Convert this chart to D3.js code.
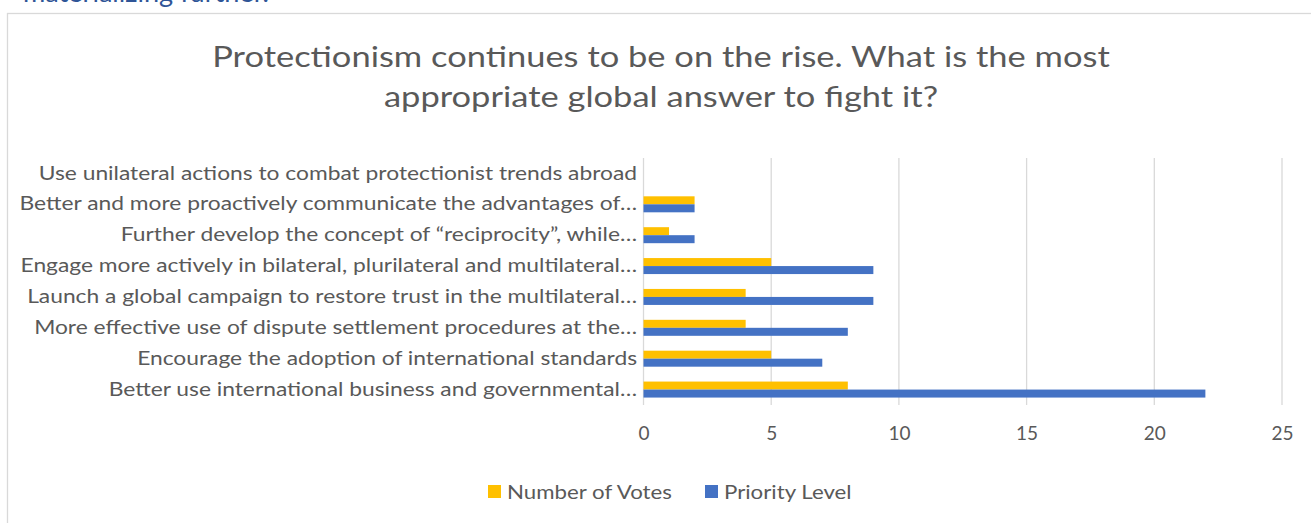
<!DOCTYPE html>
<html>
<head>
<meta charset="utf-8">
<script src="https://cdn.jsdelivr.net/npm/d3@7"></script>
<style>
  body { margin: 0; background: #fff; }
  svg text { font-family: Lato, "Open Sans", sans-serif; }
</style>
</head>
<body>
<svg id="chart" width="1311" height="523"></svg>
<script>
// Survey answers, listed from the top row of the chart to the bottom row
const categories = [
  "Use unilateral actions to combat protectionist trends abroad",
  "Better and more proactively communicate the advantages of…",
  "Further develop the concept of “reciprocity”, while…",
  "Engage more actively in bilateral, plurilateral and multilateral…",
  "Launch a global campaign to restore trust in the multilateral…",
  "More effective use of dispute settlement procedures at the…",
  "Encourage the adoption of international standards",
  "Better use international business and governmental…"
];
const seriesNames = ["Number of Votes", "Priority Level"];
const votes = [0, 2, 1, 5, 4, 4, 5, 8];
const priority = [0, 2, 2, 9, 9, 8, 7, 22];
const xTicks = [0, 5, 10, 15, 20, 25];
const titleLines = [
  "Protectionism continues to be on the rise. What is the most",
  "appropriate global answer to fight it?"
];
const headerText = "materializing further.";

const colors = { "Number of Votes": "#FFC000", "Priority Level": "#4472C4" };
const textColor = "#595959";
const gridColor = "#D9D9D9";

const svg = d3.select("#chart");

// horizontal scale factor that makes a string span a given width at a given size
function widthScale(str, size, targetWidth) {
  const t = svg.append("text").attr("font-size", size).text(str);
  const w = t.node().getComputedTextLength();
  t.remove();
  return targetWidth / w;
}

// text line above the chart frame
const headerSx = widthScale(headerText, 26, 246);
svg.append("text")
  .attr("transform", `translate(23,2) scale(${headerSx},1)`)
  .attr("font-size", 26)
  .attr("fill", "#2F5597")
  .text(headerText);

// chart frame
svg.append("rect")
  .attr("x", 7.5).attr("y", 13.5)
  .attr("width", 1400).attr("height", 600)
  .attr("fill", "none")
  .attr("stroke", gridColor)
  .attr("stroke-width", 1.3);

// title
const titleSize = 28.5;
const titleSx = widthScale(titleLines[0], titleSize, 898);
svg.append("g").selectAll("text")
  .data(titleLines)
  .join("text")
  .attr("transform", (d, i) => `translate(661,${67 + i * 40}) scale(${titleSx},1)`)
  .attr("text-anchor", "middle")
  .attr("font-size", titleSize)
  .attr("fill", textColor)
  .text(d => d);

// scales
const x = d3.scaleLinear().domain([0, 25]).range([643.5, 1282]);
const y = d3.scaleBand().domain(categories).range([158, 405]);
const ySeries = d3.scaleBand().domain(seriesNames)
  .range([0, y.bandwidth()]).paddingInner(0).paddingOuter(0.93);

// gridlines
svg.append("g").selectAll("line")
  .data(xTicks)
  .join("line")
  .attr("x1", d => x(d)).attr("x2", d => x(d))
  .attr("y1", 158).attr("y2", 405)
  .attr("stroke", gridColor)
  .attr("stroke-width", 1.3);

// bars
const rows = categories.map((c, i) => ({ c, values: [
  { s: "Number of Votes", v: votes[i] },
  { s: "Priority Level", v: priority[i] }
]}));

svg.append("g").selectAll("g")
  .data(rows)
  .join("g")
  .attr("transform", d => `translate(0,${y(d.c)})`)
  .selectAll("rect")
  .data(d => d.values)
  .join("rect")
  .attr("x", x(0))
  .attr("y", d => ySeries(d.s))
  .attr("width", d => x(d.v) - x(0))
  .attr("height", ySeries.bandwidth())
  .attr("fill", d => colors[d.s]);

// category labels
const labelSize = 19;
const labelSx = widthScale(categories[3], labelSize, 617);
const yAxis = svg.append("g")
  .attr("transform", `translate(${x(0)},0)`)
  .call(d3.axisLeft(y).tickSize(0).tickPadding(6.5));
yAxis.select(".domain").remove();
yAxis.selectAll("text")
  .attr("font-family", null)
  .attr("font-size", labelSize)
  .attr("fill", textColor)
  .attr("transform", `scale(${labelSx},1)`)
  .attr("x", -6.5 / labelSx);

// value axis
const xAxis = svg.append("g")
  .attr("transform", "translate(0,405)")
  .call(d3.axisBottom(x).tickValues(xTicks).tickSize(0).tickPadding(22));
xAxis.select(".domain").remove();
xAxis.selectAll("text")
  .attr("font-family", null)
  .attr("font-size", 19)
  .attr("fill", textColor);

// legend
const legendSize = 19.5;
const legendSx = widthScale(seriesNames[0], legendSize, 165);
const legendItems = [
  { s: seriesNames[0], x: 488 },
  { s: seriesNames[1], x: 705 }
];
const legend = svg.append("g").selectAll("g")
  .data(legendItems)
  .join("g")
  .attr("transform", d => `translate(${d.x},485)`);
legend.append("rect")
  .attr("width", 13).attr("height", 13)
  .attr("fill", d => colors[d.s]);
legend.append("text")
  .attr("transform", `translate(19,13.5) scale(${legendSx},1)`)
  .attr("font-size", legendSize)
  .attr("fill", textColor)
  .text(d => d.s);
</script>
</body>
</html>
